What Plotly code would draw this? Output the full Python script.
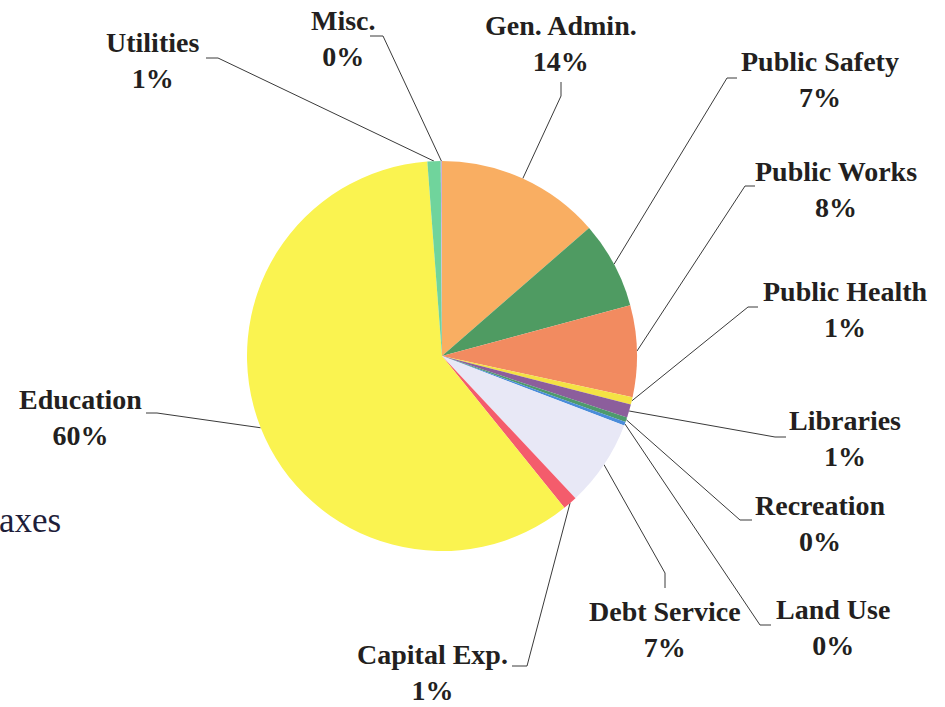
import math
import plotly.graph_objects as go

# ---------------- data ----------------
categories = ["Gen. Admin.", "Public Safety", "Public Works", "Public Health",
              "Libraries", "Recreation", "Land Use", "Debt Service",
              "Capital Exp.", "Education", "Utilities", "Misc."]
values = [13.6, 7.2, 7.6, 0.6, 1.1, 0.4, 0.3, 7.2, 1.2, 59.6, 1.1, 0.1]
colors = ["#F9AE62", "#4F9B62", "#F28B60", "#F4E244", "#8C5E9C", "#4E9A6C",
          "#4A8CDA", "#E8E8F6", "#F45C6C", "#FAF350", "#70D49C", "#C8B0D8"]

# ---------------- layout (pixel positions) ----------------
W, H = 945, 707
CX, CY, R = 442, 356, 195

# label centre (x, y) and leader-line elbow points (from pie edge outwards)
label_pos = {
    "Gen. Admin.":   ((561, 43),  [(561, 96), (561, 82)]),
    "Public Safety": ((820, 79),  [(727, 78), (737, 78)]),
    "Public Works":  ((836, 189), [(745, 186), (755, 186)]),
    "Public Health": ((845, 309), [(748, 307), (758, 307)]),
    "Libraries":     ((845, 438), [(775, 437), (786, 437)]),
    "Recreation":    ((820, 523), [(740, 520), (752, 520)]),
    "Land Use":      ((833, 627), [(760, 625), (771, 625)]),
    "Debt Service":  ((665, 629), [(665, 573), (665, 588)]),
    "Capital Exp.":  ((432, 672), [(527, 666), (512, 666)]),
    "Education":     ((80, 417),  [(157, 413), (146, 413)]),
    "Utilities":     ((152, 60),  [(218, 58), (206, 58)]),
    "Misc.":         ((343, 38),  [(383, 36), (370, 36)]),
}

FONT = "Liberation Serif"
TXT = "#231f20"

fig = go.Figure()

fig.add_trace(go.Pie(
    labels=categories, values=values, sort=False, direction="clockwise",
    rotation=0, marker=dict(colors=colors, line=dict(width=0)),
    textinfo="none", hoverinfo="label+percent", showlegend=False,
    domain=dict(x=[(CX - R) / W, (CX + R) / W],
                y=[1 - (CY + R) / H, 1 - (CY - R) / H]),
))

total = sum(values)
cum = 0.0
lx, ly = [], []
annotations = []
for name, v in zip(categories, values):
    mid = (cum + v / 2) / total * 2 * math.pi
    cum += v
    ex = CX + R * math.sin(mid)
    ey = CY - R * math.cos(mid)
    (tx, ty), elbows = label_pos[name]
    pts = [(ex, ey)] + elbows
    lx += [p[0] for p in pts] + [None]
    ly += [p[1] for p in pts] + [None]
    pct = round(v / total * 100)
    annotations.append(dict(
        x=tx, y=ty, xref="x", yref="y", showarrow=False,
        text=f"<b>{name}</b><br><b>{pct}%</b>", align="center",
        xanchor="center", yanchor="middle",
        font=dict(family=FONT, size=28, color=TXT),
    ))

fig.add_trace(go.Scatter(x=lx, y=ly, mode="lines",
                         line=dict(color="#3a3a3a", width=1),
                         hoverinfo="skip", showlegend=False))

annotations.append(dict(
    x=0, y=1 - 520 / H, xref="paper", yref="paper", showarrow=False,
    text="axes", xanchor="left", yanchor="middle", xshift=-3,
    font=dict(family=FONT, size=35, color="#1e1e3a"),
))

fig.update_layout(
    width=W, height=H, margin=dict(l=0, r=0, t=0, b=0),
    paper_bgcolor="white", plot_bgcolor="rgba(0,0,0,0)",
    xaxis=dict(range=[0, W], visible=False, fixedrange=True),
    yaxis=dict(range=[H, 0], visible=False, fixedrange=True),
    annotations=annotations,
)

fig.write_html("out.html")
